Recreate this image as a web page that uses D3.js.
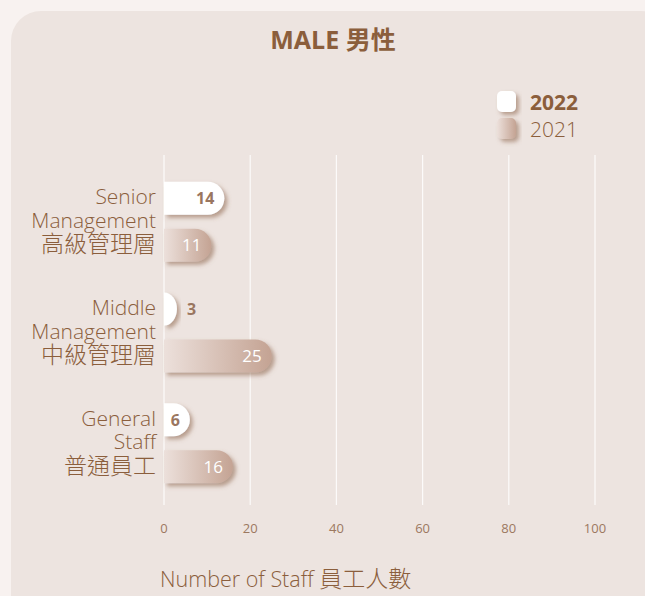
<!DOCTYPE html>
<html>
<head>
<meta charset="utf-8">
<script src="https://cdn.jsdelivr.net/npm/d3@7"></script>
<style>
  body { margin: 0; background: #f8f2f0; }
  svg { display: block; }
</style>
</head>
<body>
<svg id="chart" width="645" height="596"></svg>
<script>
var categories = [
  ["Senior", "Management", "高級管理層"],
  ["Middle", "Management", "中級管理層"],
  ["General", "Staff", "普通員工"]
];
var years = ["2022", "2021"];
var values2022 = [14, 3, 6];
var values2021 = [11, 25, 16];
var xTicks = [0, 20, 40, 60, 80, 100];

var font = "'Open Sans', 'Noto Sans CJK TC', sans-serif";
var cjk = "'Noto Sans CJK TC', sans-serif";
var brown = "#8b5e3c", tickCol = "#9c7860";

var svg = d3.select("#chart");
var defs = svg.append("defs");

var grad = defs.append("linearGradient").attr("id", "g2021")
    .attr("x1", "0%").attr("x2", "100%");
grad.append("stop").attr("offset", "0%").attr("stop-color", "#ece0db");
grad.append("stop").attr("offset", "100%").attr("stop-color", "#c4a393");

var shadow = defs.append("filter").attr("id", "shadow")
    .attr("x", "-20%").attr("y", "-30%").attr("width", "150%").attr("height", "180%");
shadow.append("feDropShadow").attr("dx", 3).attr("dy", 3).attr("stdDeviation", 2)
    .attr("flood-color", "#8a6248").attr("flood-opacity", 0.55);

// card
svg.append("rect").attr("x", 11).attr("y", 11).attr("width", 660).attr("height", 620)
    .attr("rx", 30).attr("fill", "#ede4e0");

svg.append("text").attr("x", 333).attr("y", 49).attr("text-anchor", "middle")
    .style("font-family", font).style("font-size", "25px").style("font-weight", "bold")
    .attr("fill", brown).text("MALE 男性");

var margin = {left: 164, top: 155, right: 50, bottom: 91};
var width = 595 - margin.left;
var height = 505 - margin.top;
var g = svg.append("g").attr("transform", "translate(" + margin.left + "," + margin.top + ")");

var x = d3.scaleLinear().domain([0, 100]).range([0, width]);
var y = d3.scaleBand().domain(d3.range(categories.length)).range([10, 342]).paddingInner(0.0);
var bh = 33;

// grid
g.selectAll(".grid").data(xTicks).enter().append("line")
    .attr("x1", function(d) { return x(d); }).attr("x2", function(d) { return x(d); })
    .attr("y1", 0).attr("y2", height)
    .attr("stroke", "#ffffff").attr("stroke-width", 1.2).attr("opacity", 0.85);

g.selectAll(".tick").data(xTicks).enter().append("text")
    .attr("x", function(d) { return x(d); }).attr("y", 378)
    .attr("text-anchor", "middle")
    .style("font-family", font).style("font-size", "13px")
    .attr("fill", tickCol).text(function(d) { return d; });

function barPath(w) {
  var r = bh / 2, rx = Math.min(r, w);
  var s = Math.max(0, w - rx);
  return "M0,0H" + s + "A" + rx + "," + r + " 0 0 1 " + s + "," + bh + "H0Z";
}

// category labels, one text per line
categories.forEach(function(lines, i) {
  var c = y(i) + y.bandwidth() / 2;
  lines.forEach(function(l, k) {
    g.append("text").attr("text-anchor", "end")
      .attr("x", -8).attr("y", c - 16 + k * 23.5 + (k === 2 ? 1 : 0))
      .style("font-family", k === 2 ? cjk : font)
      .style("font-size", k === 2 ? "23px" : "21px").style("font-weight", 300)
      .attr("fill", brown).text(l);
  });
});

var offs = [-22, 25];
[values2022, values2021].forEach(function(vals, s) {
  vals.forEach(function(v, i) {
    var top = y(i) + y.bandwidth() / 2 + offs[s] - bh / 2;
    g.append("path").attr("transform", "translate(0," + top + ")")
      .attr("d", barPath(x(v)))
      .attr("fill", s === 0 ? "#ffffff" : "url(#g2021)")
      .attr("filter", "url(#shadow)");
    var inside = x(v) > 22;
    g.append("text")
      .attr("x", inside ? x(v) - 10 : x(v) + 10)
      .attr("y", top + bh / 2 + 6)
      .attr("text-anchor", inside ? "end" : "start")
      .style("font-family", font)
      .style("font-size", s === 0 ? "16px" : "17px")
      .style("font-weight", s === 0 ? "bold" : "normal")
      .attr("fill", s === 0 ? "#9a7660" : "#ffffff")
      .text(v);
  });
});

// legend
var legend = svg.append("g").attr("transform", "translate(497,91)");
years.forEach(function(yr, i) {
  var row = legend.append("g").attr("transform", "translate(0," + i * 27 + ")");
  row.append("rect").attr("width", 19).attr("height", 21).attr("rx", 5)
    .attr("fill", i === 0 ? "#ffffff" : "url(#g2021)").attr("filter", "url(#shadow)");
  row.append("text").attr("x", 33).attr("y", 19)
    .style("font-family", font).style("font-size", "21px")
    .style("font-weight", i === 0 ? "bold" : 300)
    .attr("fill", brown).text(yr);
});

var axisTitle = svg.append("text").attr("x", 160).attr("y", 587)
    .style("font-family", font).style("font-size", "21.5px").style("font-weight", 300)
    .attr("fill", brown);
axisTitle.append("tspan").text("Number of Staff ");
axisTitle.append("tspan").style("font-family", cjk).style("font-size", "23px").text("員工人數");
</script>
</body>
</html>
